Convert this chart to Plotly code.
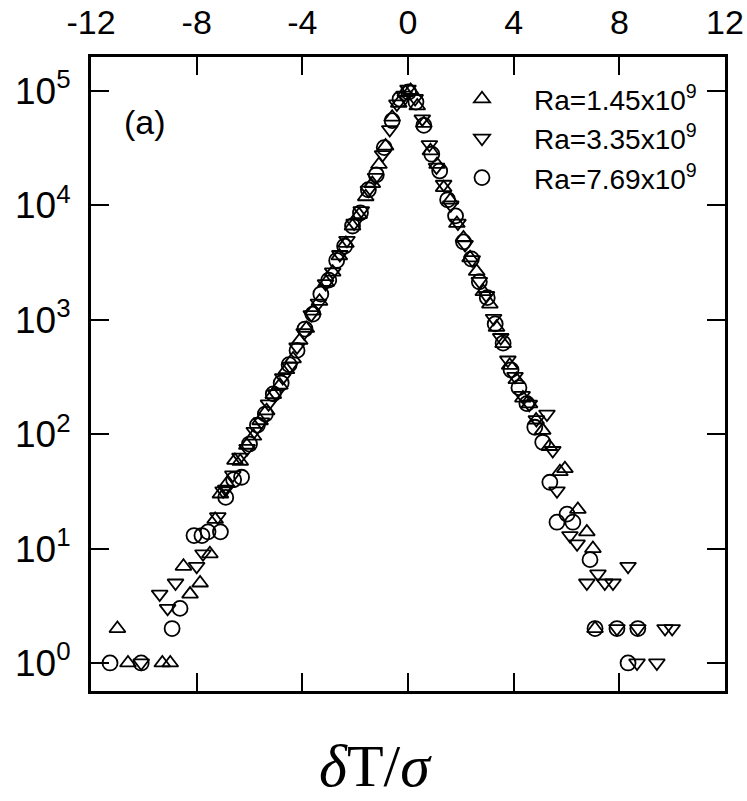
import plotly.graph_objects as go

# Series 1: Ra = 1.45x10^9 (open up-triangles)
x1 = [-11.0, -10.6, -9.3, -9.0, -8.5, -8.25, -7.87, -7.5, -7.3, -7.1,
      -6.85, -6.55, -6.35, -6.1, -5.85, -5.6, -5.35, -5.1, -4.85, -4.6,
      -4.35, -4.1, -3.85, -3.6, -3.35, -3.1, -2.85, -2.6, -2.35, -2.1,
      -1.85, -1.6, -1.35, -1.1, -0.85, -0.6, -0.35, -0.1, 0.1, 0.35,
      0.6, 0.85, 1.1, 1.35, 1.6, 1.85, 2.1, 2.35, 2.6, 2.85,
      3.1, 3.35, 3.6, 3.85, 4.1, 4.35, 4.6, 4.85, 5.1, 5.35,
      5.75, 5.94, 6.43, 6.77, 7.0, 7.08]
y1 = [2, 1, 1, 1, 7, 4, 5, 9, 18, 30,
      37, 59, 58, 80, 96, 131, 160, 222, 268, 366,
      455, 660, 840, 1190, 1450, 2120, 2610, 3620, 4650, 6600,
      8300, 11900, 15500, 22800, 33000, 59000, 78000, 97000, 101000, 74000,
      52000, 30000, 22800, 14300, 11100, 6950, 5200, 3480, 2650, 1760,
      1370, 860, 620, 400, 300, 207, 184, 133, 108, 78,
      47, 50, 22, 14, 10, 2]

# Series 2: Ra = 3.35x10^9 (open down-triangles)
x2 = [-10.1, -9.4, -9.1, -8.8, -8.0, -7.76, -7.2, -7.0, -6.9, -6.63,
      -6.36, -6.09, -5.82, -5.55, -5.28, -5.01, -4.74, -4.47, -4.2, -3.93,
      -3.66, -3.39, -3.12, -2.85, -2.58, -2.31, -2.04, -1.77, -1.5, -1.23,
      -0.96, -0.69, -0.42, -0.15, 0.0, 0.27, 0.54, 0.81, 1.08, 1.35,
      1.62, 1.89, 2.16, 2.43, 2.7, 2.97, 3.24, 3.51, 3.78, 4.05,
      4.32, 4.59, 4.86, 5.26, 5.48, 5.64, 6.13, 6.4, 6.77, 7.19,
      7.45, 7.76, 8.33, 7.91, 8.7, 9.73, 10.0, 8.67, 9.42]
y2 = [1, 4, 3, 5, 7, 9, 19, 32, 33, 44,
      63, 75, 106, 128, 184, 226, 312, 392, 580, 770,
      1110, 1400, 2070, 2620, 3720, 4950, 7000, 9000, 13600, 17600,
      27800, 46000, 77000, 92000, 104000, 86000, 57000, 34000, 21600, 15300,
      10100, 7000, 4550, 3350, 2170, 1630, 1030, 700, 445, 320,
      218, 183, 134, 150, 72, 32, 13, 11, 5, 6,
      5, 5, 7, 2, 2, 2, 2, 1, 1]

# Series 3: Ra = 7.69x10^9 (open circles)
x3 = [-11.28, -10.1, -8.93, -8.63, -8.1, -7.8, -7.57, -7.1, -6.9, -6.6,
      -6.3, -6.0, -5.7, -5.4, -5.1, -4.8, -4.5, -4.2, -3.9, -3.6,
      -3.3, -3.0, -2.7, -2.4, -2.1, -1.8, -1.5, -1.2, -0.9, -0.6,
      -0.3, 0.02, 0.3, 0.6, 0.9, 1.2, 1.5, 1.8, 2.1, 2.4,
      2.7, 3.0, 3.3, 3.6, 3.9, 4.2, 4.5, 4.8, 5.1, 5.37,
      5.64, 6.02, 6.24, 6.89, 7.08, 7.91, 8.7, 8.33]
y3 = [1, 1, 2, 3, 13, 13, 14, 14, 28, 40,
      42, 82, 120, 150, 225, 280, 405, 540, 830, 1120,
      1680, 2220, 3300, 4400, 6600, 8600, 13700, 18500, 32000, 55000,
      85000, 98000, 80000, 50000, 28000, 20000, 11200, 8100, 4800, 3400,
      2150, 1560, 920, 625, 365, 255, 185, 115, 85, 38,
      17, 20, 17, 8, 2, 2, 2, 1]

series_names = ["Ra=1.45x10<sup>9</sup>", "Ra=3.35x10<sup>9</sup>", "Ra=7.69x10<sup>9</sup>"]

x_tickvals = [-12, -8, -4, 0, 4, 8, 12]
x_ticktext = ["-12", "-8", "-4", "0", "4", "8", "12"]
y_tickvals = [1, 10, 100, 1000, 10000, 100000]
y_ticktext = ["10<sup>0</sup>", "10<sup>1</sup>", "10<sup>2</sup>",
              "10<sup>3</sup>", "10<sup>4</sup>", "10<sup>5</sup>"]

fig = go.Figure()
styles = [("triangle-up-open", 14), ("triangle-down-open", 14), ("circle-open", 15)]
for (xs, ys, name, (sym, sz)) in zip([x1, x2, x3], [y1, y2, y3], series_names, styles):
    fig.add_trace(go.Scatter(
        x=xs, y=ys, mode="markers", name=name,
        marker=dict(symbol=sym, size=sz, color="black", line=dict(color="black", width=1.8)),
    ))

fig.update_layout(
    width=747, height=801,
    margin=dict(l=91, r=22, t=57, b=110),
    paper_bgcolor="white", plot_bgcolor="white",
    font=dict(family="Liberation Sans, Arial, sans-serif", color="black"),
    showlegend=True,
    legend=dict(
        x=0.5347, y=0.973, xanchor="left", yanchor="top",
        bgcolor="rgba(0,0,0,0)", borderwidth=0,
        font=dict(size=28, color="black", family="Liberation Sans, Arial, sans-serif"),
        itemwidth=94, tracegroupgap=0,
    ),
    xaxis=dict(
        range=[-12, 12], side="top", automargin=False,
        tickvals=x_tickvals, ticktext=x_ticktext,
        ticks="inside", ticklen=18, tickwidth=2, tickcolor="black",
        showline=True, linewidth=3, linecolor="black", mirror="allticks",
        showgrid=False, zeroline=False,
        tickfont=dict(size=34, color="black"),
        ticklabelstandoff=6,
    ),
    yaxis=dict(
        type="log", range=[-0.245, 5.297], automargin=False,
        tickvals=y_tickvals, ticktext=y_ticktext,
        ticks="inside", ticklen=18, tickwidth=2, tickcolor="black",
        showline=True, linewidth=3, linecolor="black", mirror="allticks",
        showgrid=False, zeroline=False,
        tickfont=dict(size=37, color="black"),
        ticklabelstandoff=10,
    ),
    annotations=[
        dict(text="(a)", xref="paper", yref="paper", x=0.085, y=0.8975,
             xanchor="center", yanchor="middle", showarrow=False,
             font=dict(size=34, color="black", family="Liberation Sans, Arial, sans-serif")),
        dict(text="<i>δ</i>T/<i>σ</i>", xref="paper", yref="paper", x=0.4495, y=-0.1735,
             xanchor="center", yanchor="bottom", showarrow=False,
             font=dict(size=60, color="black", family="Liberation Serif, Times New Roman, serif")),
    ],
)

fig.write_html("out.html")
